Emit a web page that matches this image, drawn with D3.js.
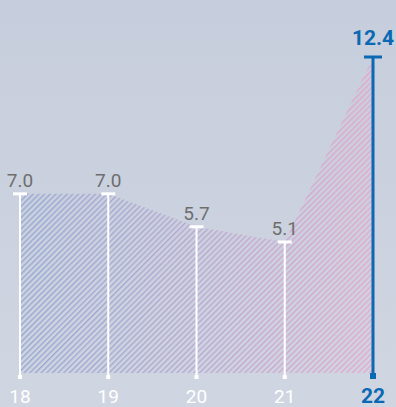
<!DOCTYPE html>
<html>
<head>
<meta charset="utf-8">
<script src="https://cdn.jsdelivr.net/npm/d3@7"></script>
<style>
  html, body { margin: 0; padding: 0; overflow: hidden; }
  svg { display: block; }
</style>
</head>
<body>
<svg id="chart"></svg>
<script>
// data
const years = ['18', '19', '20', '21', '22'];
const values = [7.0, 7.0, 5.7, 5.1, 12.4];
const valueLabels = ['7.0', '7.0', '5.7', '5.1', '12.4'];

const w = 396;
const h = 407;
const baseY = 377;

const svg = d3.select('#chart').attr('width', w).attr('height', h);
const defs = svg.append('defs');

// background
const bg = defs.append('linearGradient').attr('id', 'bg')
  .attr('x1', 0).attr('y1', 0).attr('x2', 0).attr('y2', 1);
bg.append('stop').attr('offset', '0%').attr('stop-color', '#c6cddc');
bg.append('stop').attr('offset', '100%').attr('stop-color', '#d0d6e1');
svg.append('rect').attr('width', w).attr('height', h).attr('fill', 'url(#bg)');

const x = d3.scalePoint().domain(years).range([20, 373]);
const y = d3.scaleLinear().domain([-0.15, 12.4]).range([375, 57]);

const data = years.map((yr, i) => ({ yr, v: values[i], label: valueLabels[i] }));
const last = data.length - 1;

// hatched area
const hatch = defs.append('pattern').attr('id', 'hatch')
  .attr('patternUnits', 'userSpaceOnUse')
  .attr('width', 4).attr('height', 4)
  .attr('patternTransform', 'rotate(45)');
hatch.append('rect').attr('width', 1.4).attr('height', 4).attr('fill', 'white');

const mask = defs.append('mask').attr('id', 'hatchMask');
mask.append('rect').attr('width', w).attr('height', h).attr('fill', 'url(#hatch)');

const grad = defs.append('linearGradient').attr('id', 'areaGrad')
  .attr('gradientUnits', 'userSpaceOnUse')
  .attr('x1', x('18')).attr('x2', x('22')).attr('y1', 0).attr('y2', 0);
grad.append('stop').attr('offset', '0%').attr('stop-color', '#8b9fd0');
grad.append('stop').attr('offset', '50%').attr('stop-color', '#b49fcf');
grad.append('stop').attr('offset', '100%').attr('stop-color', '#ec9fca');

const area = d3.area()
  .x(d => x(d.yr))
  .y0(373)
  .y1(d => y(d.v));

svg.append('path')
  .datum(data)
  .attr('d', area)
  .attr('fill', 'url(#areaGrad)')
  .attr('opacity', 0.85)
  .attr('mask', 'url(#hatchMask)');

// stems
const stems = svg.append('g');
stems.selectAll('line.stem')
  .data(data)
  .join('line')
  .attr('class', 'stem')
  .attr('x1', d => x(d.yr)).attr('x2', d => x(d.yr))
  .attr('y1', d => y(d.v)).attr('y2', baseY)
  .attr('stroke', (d, i) => i === last ? '#0b68b2' : '#ffffff')
  .attr('stroke-width', (d, i) => i === last ? 3 : 2);

stems.selectAll('line.cap')
  .data(data)
  .join('line')
  .attr('class', 'cap')
  .attr('x1', (d, i) => x(d.yr) - (i === last ? 9 : 7))
  .attr('x2', (d, i) => x(d.yr) + (i === last ? 9 : 7))
  .attr('y1', d => y(d.v)).attr('y2', d => y(d.v))
  .attr('stroke', (d, i) => i === last ? '#0b68b2' : '#ffffff')
  .attr('stroke-width', 3);

stems.selectAll('rect.foot')
  .data(data)
  .join('rect')
  .attr('class', 'foot')
  .attr('x', (d, i) => x(d.yr) - (i === last ? 3 : 2))
  .attr('y', (d, i) => baseY - (i === last ? 4 : 2))
  .attr('width', (d, i) => i === last ? 6 : 4)
  .attr('height', (d, i) => i === last ? 6 : 4)
  .attr('fill', (d, i) => i === last ? '#0b68b2' : '#ffffff');

// value labels
svg.append('g').selectAll('text')
  .data(data)
  .join('text')
  .attr('x', d => x(d.yr))
  .attr('y', (d, i) => y(d.v) - (i === last ? 12 : 7))
  .attr('text-anchor', 'middle')
  .attr('font-family', 'Roboto, sans-serif')
  .attr('font-size', (d, i) => i === last ? 21 : 19)
  .attr('font-weight', (d, i) => i === last ? 700 : 400)
  .attr('fill', (d, i) => i === last ? '#0b68b2' : '#6e6e6e')
  .text(d => d.label);

// x axis labels
svg.append('g').selectAll('text')
  .data(data)
  .join('text')
  .attr('x', d => x(d.yr))
  .attr('y', 403)
  .attr('text-anchor', 'middle')
  .attr('font-family', 'Roboto, sans-serif')
  .attr('font-size', (d, i) => i === last ? 21 : 19)
  .attr('font-weight', (d, i) => i === last ? 700 : 400)
  .attr('fill', (d, i) => i === last ? '#0b68b2' : '#ffffff')
  .text(d => d.yr);
</script>
</body>
</html>
